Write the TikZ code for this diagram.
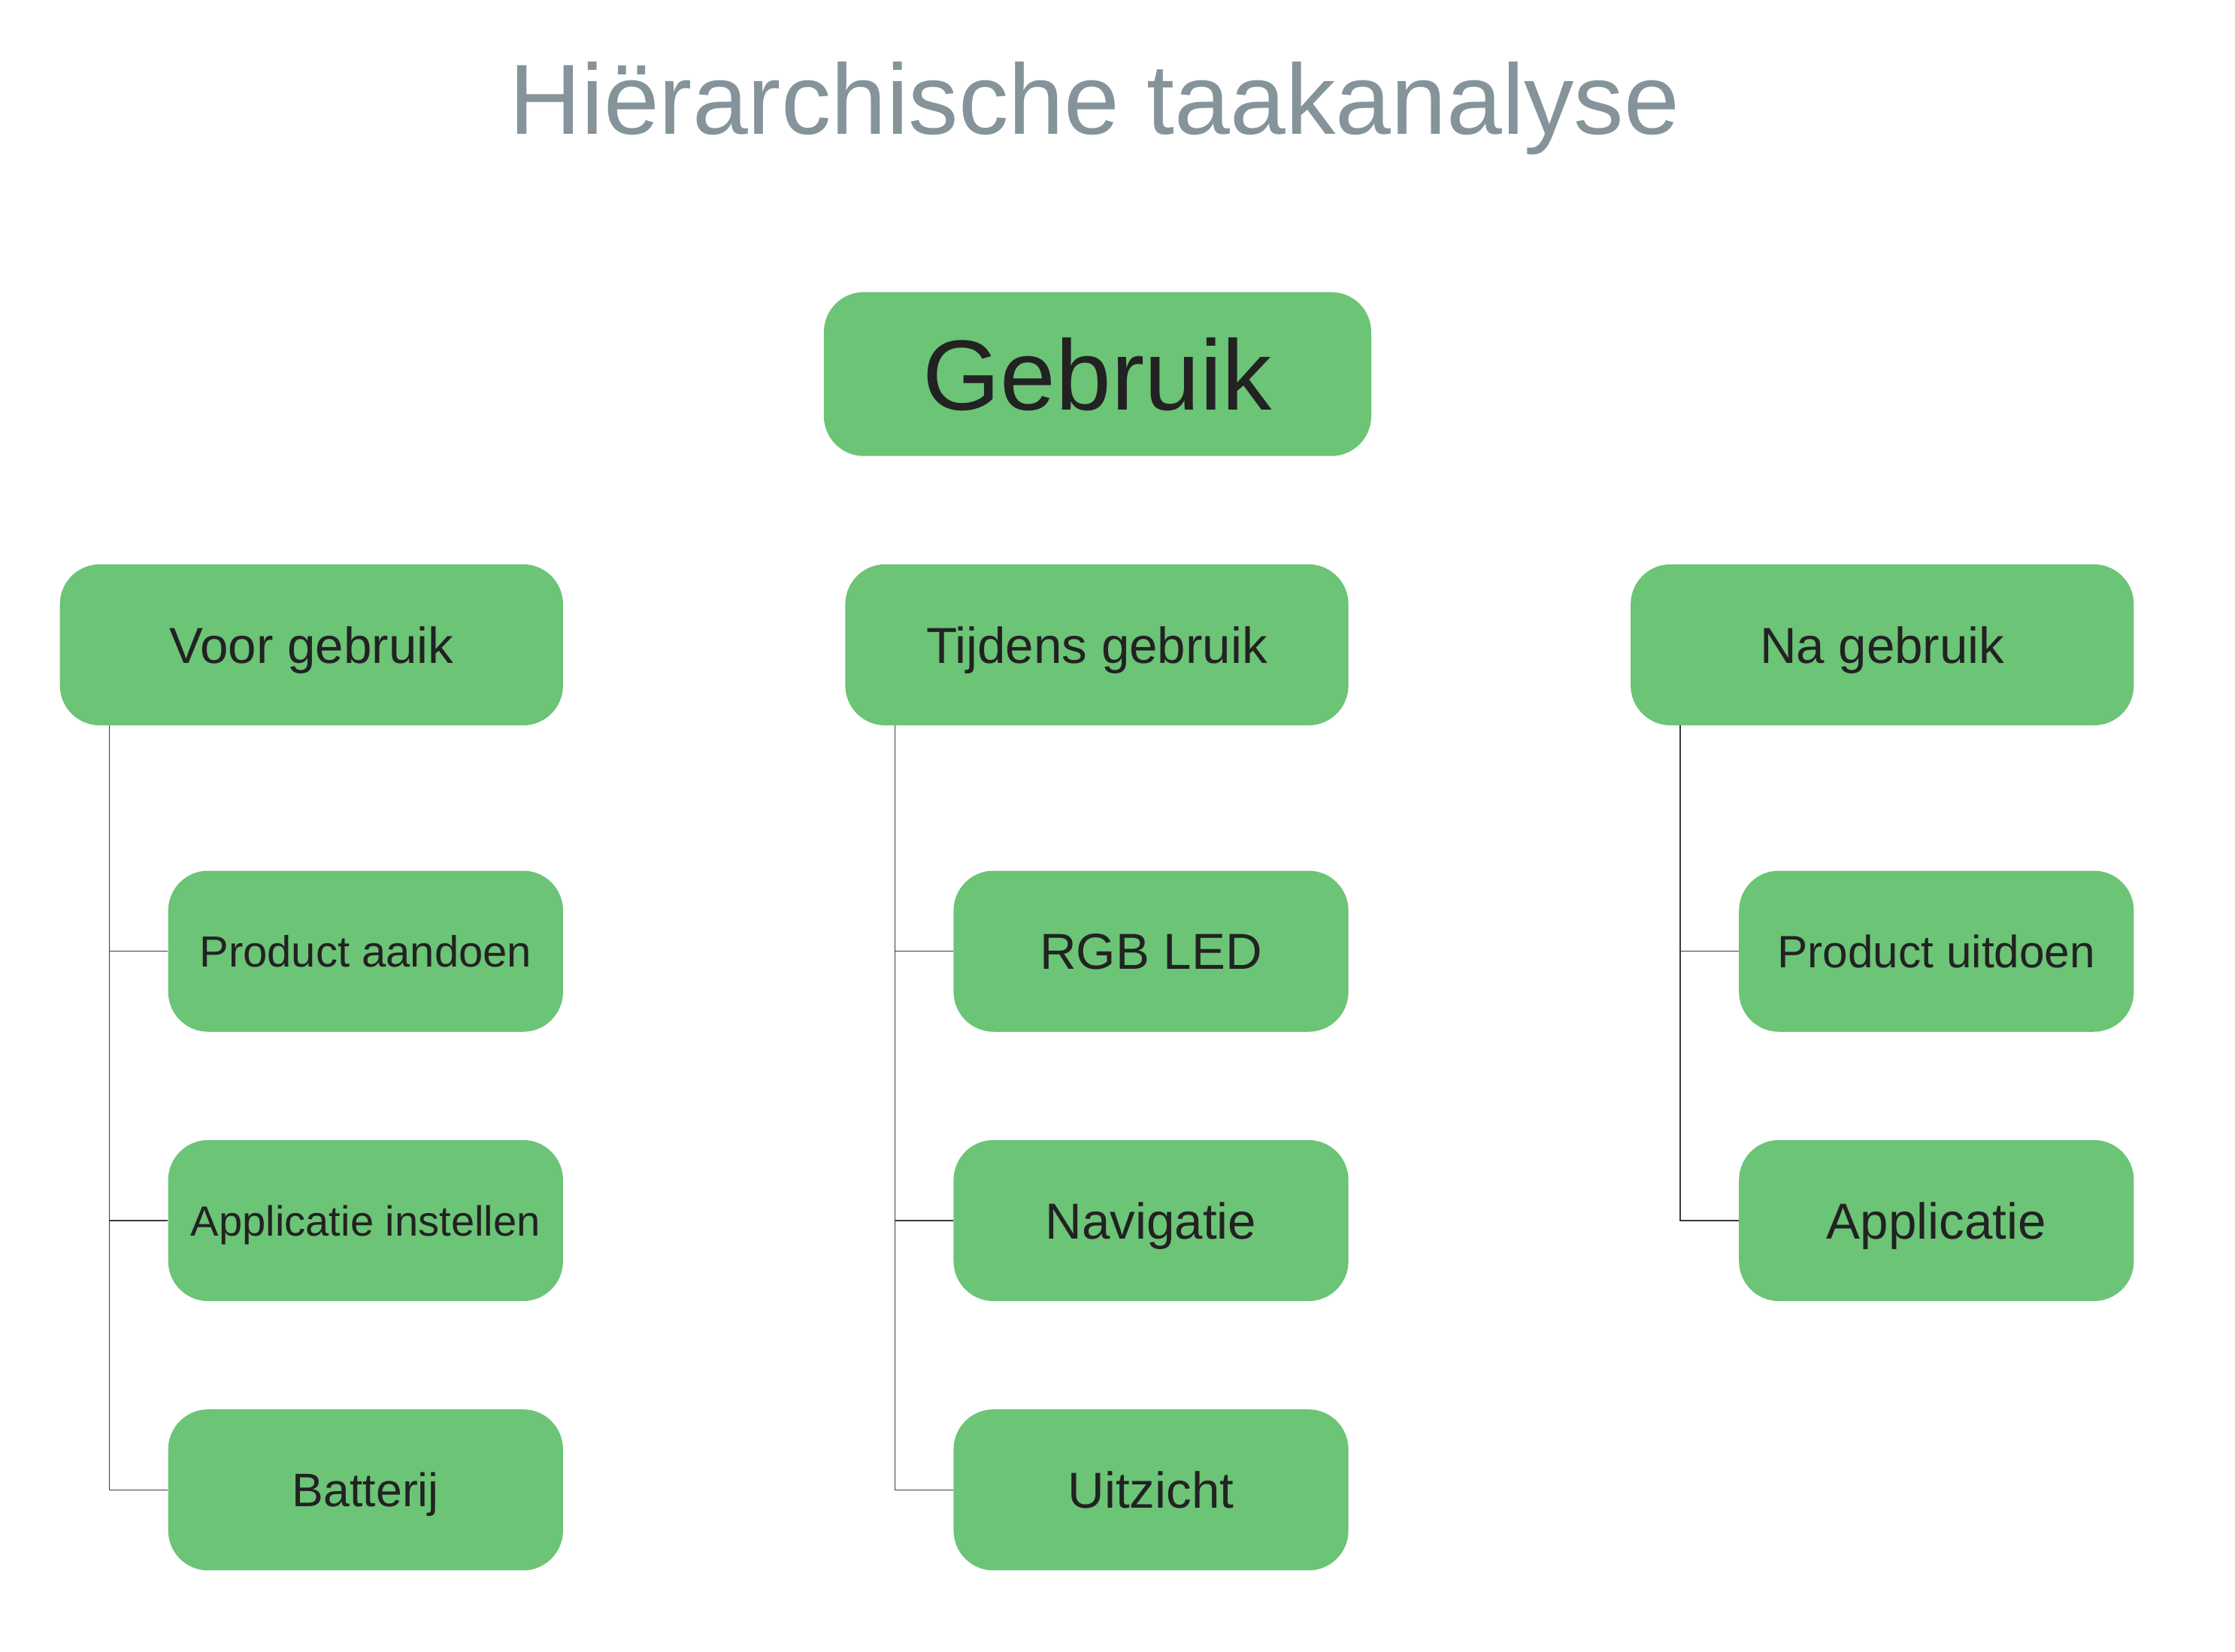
\documentclass[tikz,border=0pt]{standalone}
\usepackage{fontspec}
\setmainfont{Liberation Sans}
\definecolor{boxgreen}{HTML}{6CC476}
\definecolor{txtdark}{HTML}{222222}
\definecolor{titlegray}{HTML}{85939A}
\definecolor{linegray}{HTML}{3A3A3A}
\begin{document}
\begin{tikzpicture}[x=1pt,y=-1pt,
  gbox/.style={fill=boxgreen, draw=none, rounded corners=28pt, text=txtdark,
    inner sep=0pt, text depth=0pt, align=center},
  sz/.style={font=\fontsize{#1}{#1}\selectfont, text height=0.716*#1 pt},
  topbox/.style={gbox, minimum width=384pt, minimum height=115pt, sz=70},
  midbox/.style={gbox, minimum width=353pt, minimum height=113pt, sz=35.5},
  leafbox/.style={gbox, minimum width=277pt, minimum height=113pt, sz=35.5},
  conn/.style={draw=linegray, line width=0.8pt}]
\useasboundingbox (0,0) rectangle (1568,1159);
\fill[white] (0,0) rectangle (1568,1159);

\node[text=titlegray, inner sep=0pt, text depth=0pt, sz=70] (title) at (768,69) {Hiërarchische taakanalyse};

\node[topbox] (g) at (770,262.5) {Gebruik};

\node[midbox] (v) at (218.5,452.5) {Voor gebruik};
\node[midbox] (t) at (769.5,452.5) {Tijdens gebruik};
\node[midbox] (n) at (1320.5,452.5) {Na gebruik};

\node[leafbox, sz=30.6] (v1) at (256.5,667.5) {Product aandoen};
\node[leafbox, sz=29.6] (v2) at (256.5,856.5) {Applicatie instellen};
\node[leafbox, sz=33] (v3) at (256.5,1045.5) {Batterij};

\node[leafbox] (t1) at (807.5,667.5) {RGB LED};
\node[leafbox] (t2) at (807.5,856.5) {Navigatie};
\node[leafbox] (t3) at (807.5,1045.5) {Uitzicht};

\node[leafbox, sz=31.8] (n1) at (1358.5,667.5) {Product uitdoen};
\node[leafbox] (n2) at (1358.5,856.5) {Applicatie};

\coordinate (vx) at ([xshift=35pt]v.south west);
\coordinate (tx) at ([xshift=35pt]t.south west);
\coordinate (nx) at ([xshift=35pt]n.south west);

\draw[conn] (vx) |- (v1.west);
\draw[conn] (vx) |- (v2.west);
\draw[conn] (vx) |- (v3.west);
\draw[conn] (tx) |- (t1.west);
\draw[conn] (tx) |- (t2.west);
\draw[conn] (tx) |- (t3.west);
\draw[conn] (nx) |- (n1.west);
\draw[conn] (nx) |- (n2.west);
\end{tikzpicture}
\end{document}
